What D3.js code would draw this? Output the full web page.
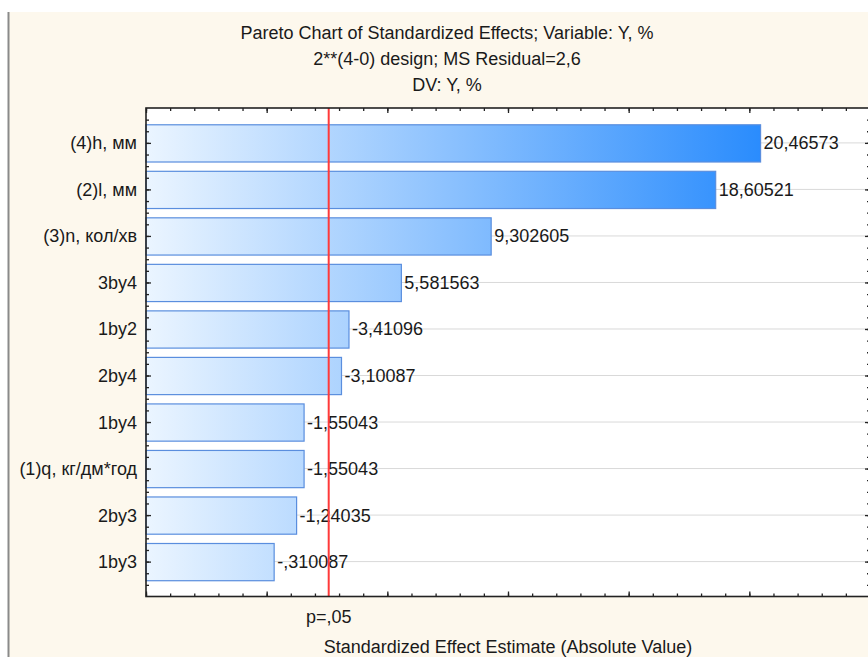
<!DOCTYPE html>
<html>
<head>
<meta charset="utf-8">
<script src="https://cdn.jsdelivr.net/npm/d3@7"></script>
<style>
  html, body { margin: 0; padding: 0; background: #ffffff; }
  svg { display: block; font-family: "Liberation Sans", Arial, sans-serif; }
</style>
</head>
<body>
<svg id="chart" width="868" height="657"></svg>
<script>
// Effect names, in Pareto order (largest absolute effect first)
const effects = [
  "(4)h, мм", "(2)l, мм", "(3)n, кол/хв", "3by4", "1by2",
  "2by4", "1by4", "(1)q, кг/дм*год", "2by3", "1by3"
];
// Standardized effect estimates (t-values, signed)
const estimates = [
  20.46573, 18.60521, 9.302605, 5.581563, -3.41096,
  -3.10087, -1.55043, -1.55043, -1.24035, -0.310087
];
// Critical t for p = .05 (df = 5)
const tCritical = 2.570582;
const tCriticalLabel = "p=,05";
// Axis range of the effect axis
const xDomain = [-5, 25];

const titleLines = [
  "Pareto Chart of Standardized Effects; Variable: Y, %",
  "2**(4-0) design; MS Residual=2,6",
  "DV: Y, %"
];
const xTitle = "Standardized Effect Estimate (Absolute Value)";

const FS = 18;
const svg = d3.select("#chart");
const W = 868, H = 657;
const plot = { left: 146, top: 108, right: 870, bottom: 596.5 };

// Panel background and left frame edge
svg.append("rect").attr("x", 9).attr("y", 12).attr("width", W - 9).attr("height", H - 12)
  .attr("fill", "#fdf8ed");
svg.append("line").attr("x1", 8.5).attr("x2", 8.5).attr("y1", 12).attr("y2", H)
  .attr("stroke", "#8a8a8a").attr("stroke-width", 2);

// Scales
const x = d3.scaleLinear().domain(xDomain).range([plot.left, plot.right]);
const y = d3.scaleBand().domain(effects).range([plot.top, plot.bottom])
  .paddingInner(0.2).paddingOuter(0.35);

// Plot area
svg.append("rect").attr("x", plot.left).attr("y", plot.top)
  .attr("width", plot.right - plot.left).attr("height", plot.bottom - plot.top)
  .attr("fill", "#ffffff");

// Title
const title = svg.append("g").attr("font-size", FS).attr("fill", "#1a1a1a")
  .attr("text-anchor", "middle");
titleLines.forEach((t, i) => {
  title.append("text").attr("x", 447).attr("y", 39 + i * 26).text(t);
});

// Horizontal gridlines through each effect
const maxAbs = d3.max(estimates, d => Math.abs(d));
svg.append("g").selectAll("line").data(effects).join("line")
  .attr("x1", plot.left).attr("x2", plot.right)
  .attr("y1", d => y(d) + y.bandwidth() / 2).attr("y2", d => y(d) + y.bandwidth() / 2)
  .attr("stroke", "#d9d9d9").attr("stroke-width", 1);

// Gradient running across the effect axis
const defs = svg.append("defs");
const grad = defs.append("linearGradient").attr("id", "barFill")
  .attr("gradientUnits", "userSpaceOnUse")
  .attr("x1", x(xDomain[0])).attr("x2", x(maxAbs)).attr("y1", 0).attr("y2", 0);
grad.append("stop").attr("offset", 0).attr("stop-color", "#ebf5ff");
grad.append("stop").attr("offset", 1).attr("stop-color", "#2a8cfd");

// Bars (absolute value)
svg.append("g").selectAll("rect").data(estimates).join("rect")
  .attr("x", x(xDomain[0]))
  .attr("y", (d, i) => y(effects[i]) + 0.5)
  .attr("width", d => x(Math.abs(d)) - x(xDomain[0]))
  .attr("height", y.bandwidth())
  .attr("fill", "url(#barFill)")
  .attr("stroke", "#5a8ede").attr("stroke-width", 1.2);

// Value labels: decimal comma, no leading zero, ASCII minus
const locale = d3.formatLocale({ decimal: ",", thousands: " ", grouping: [3], currency: ["", ""], minus: "-" });
const fmt = locale.format(".7~g");
const label = v => fmt(v).replace(/^(-?)0,/, "$1,");
svg.append("g").attr("font-size", FS).attr("fill", "#1a1a1a")
  .selectAll("text").data(estimates).join("text")
  .attr("x", d => x(Math.abs(d)) + 3)
  .attr("y", (d, i) => y(effects[i]) + y.bandwidth() / 2)
  .attr("dy", "0.36em")
  .text(label);

// Significance line
svg.append("line").attr("x1", x(tCritical)).attr("x2", x(tCritical))
  .attr("y1", plot.top).attr("y2", plot.bottom)
  .attr("stroke", "#ff3a3a").attr("stroke-width", 2);
svg.append("text").attr("x", x(tCritical)).attr("y", 623)
  .attr("text-anchor", "middle").attr("font-size", FS).attr("fill", "#1a1a1a")
  .text(tCriticalLabel);

// Axes: tick marks point inward, no numeric labels
const xMinor = d3.range(xDomain[0], xDomain[1] + 1, 1);
const xMajor = d3.range(xDomain[0], xDomain[1] + 1, 5);
const axisColor = "#222";

function tickAxis(axisFn, scale, values, size) {
  return axisFn(scale).tickValues(values).tickSizeInner(size).tickSizeOuter(0).tickFormat("");
}

// Top & bottom
[[d3.axisBottom, plot.top], [d3.axisTop, plot.bottom]].forEach(([fn, yy]) => {
  const g = svg.append("g").attr("transform", `translate(0,${yy})`);
  g.call(tickAxis(fn, x, xMinor, 3));
  g.append("g").call(tickAxis(fn, x, xMajor, 5));
  g.selectAll("path.domain").remove();
  g.selectAll("line").attr("stroke", axisColor).attr("stroke-width", 1.3);
});

// Left & right: major ticks at effect centers, minor ticks at quarter steps
const step = y.step();
const y0 = y(effects[0]) + y.bandwidth() / 2;
const yLin = d3.scaleLinear().domain([0, effects.length - 1])
  .range([y0, y0 + step * (effects.length - 1)]);
const yMinor = d3.range(-3, effects.length * 4 - 1).map(i => i / 4)
  .filter(v => yLin(v) > plot.top + 1 && yLin(v) < plot.bottom - 1);
const yMajor = d3.range(effects.length);

[[d3.axisRight, plot.left], [d3.axisLeft, plot.right]].forEach(([fn, xx]) => {
  const g = svg.append("g").attr("transform", `translate(${xx},0)`);
  g.call(tickAxis(fn, yLin, yMinor, 3));
  g.append("g").call(tickAxis(fn, yLin, yMajor, 5));
  g.selectAll("path.domain").remove();
  g.selectAll("line").attr("stroke", axisColor).attr("stroke-width", 1.3);
});

// Category labels
svg.append("g").attr("font-size", FS).attr("fill", "#1a1a1a").attr("text-anchor", "end")
  .selectAll("text").data(effects).join("text")
  .attr("x", plot.left - 9)
  .attr("y", d => y(d) + y.bandwidth() / 2)
  .attr("dy", "0.36em")
  .text(d => d);

// Plot frame
svg.append("rect").attr("x", plot.left).attr("y", plot.top)
  .attr("width", plot.right - plot.left).attr("height", plot.bottom - plot.top)
  .attr("fill", "none").attr("stroke", axisColor).attr("stroke-width", 1.6);

// Axis title
svg.append("text").attr("x", (plot.left + plot.right) / 2).attr("y", 653)
  .attr("text-anchor", "middle").attr("font-size", FS).attr("fill", "#1a1a1a")
  .text(xTitle);
</script>
</body>
</html>
